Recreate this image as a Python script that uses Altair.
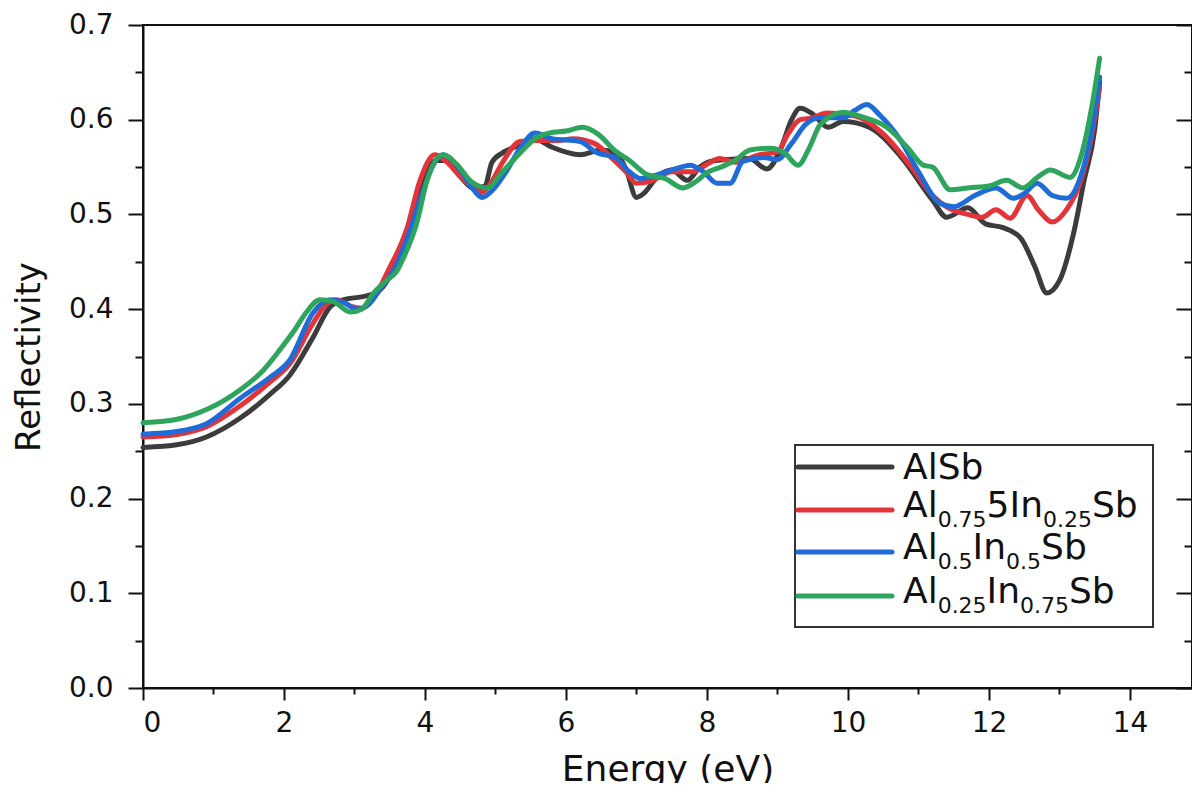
import altair as alt
import pandas as pd

# ---------------- data ----------------
SERIES = ["AlSb", "Al0.75In0.25Sb", "Al0.5In0.5Sb", "Al0.25In0.75Sb"]
COLORS = ["#3c3c3c", "#e3343a", "#1f6bd8", "#2ea55c"]

alsb_x = [0, 0.5, 0.9, 1.38, 1.8, 2.08, 2.41, 2.65, 2.85, 3.1, 3.3, 3.5, 3.7, 3.85, 4.0,
          4.15, 4.3, 4.5, 4.7, 4.85, 4.95, 5.1, 5.3, 5.55, 5.8, 6.2, 6.5, 6.7, 6.85, 7.0,
          7.1, 7.3, 7.5, 7.72, 7.9, 8.05, 8.3, 8.6, 8.85, 9.05, 9.2, 9.32, 9.5, 9.72, 9.93,
          10.3, 10.75, 11.2, 11.4, 11.7, 11.95, 12.2, 12.45, 12.65, 12.82, 13.0, 13.2, 13.35,
          13.5, 13.57]
alsb_y = [0.254, 0.257, 0.265, 0.285, 0.31, 0.33, 0.37, 0.402, 0.41, 0.413, 0.417, 0.435,
          0.475, 0.505, 0.538, 0.557, 0.557, 0.54, 0.527, 0.53, 0.555, 0.565, 0.572, 0.58,
          0.571, 0.563, 0.568, 0.565, 0.548, 0.518, 0.522, 0.54, 0.547, 0.536, 0.55, 0.556,
          0.558, 0.559, 0.548, 0.57, 0.6, 0.612, 0.606, 0.592, 0.598, 0.592, 0.561, 0.515,
          0.497, 0.507, 0.49, 0.486, 0.475, 0.445, 0.417, 0.43, 0.48, 0.536, 0.59, 0.64]

al75_x = [0, 0.5, 0.9, 1.38, 1.8, 2.08, 2.41, 2.6, 2.75, 2.95, 3.1, 3.3, 3.48, 3.74, 3.93,
          4.14, 4.3, 4.5, 4.65, 4.8, 4.95, 5.1, 5.35, 5.6, 5.9, 6.1, 6.4, 6.67, 6.85, 7.0,
          7.2, 7.5, 7.8, 8.0, 8.18, 8.4, 8.75, 9.0, 9.15, 9.32, 9.5, 9.7, 10.1, 10.5, 10.9,
          11.2, 11.4, 11.7, 11.9, 12.1, 12.3, 12.54, 12.7, 12.9, 13.1, 13.3, 13.45, 13.57]
al75_y = [0.265, 0.268, 0.276, 0.298, 0.323, 0.342, 0.385, 0.405, 0.41, 0.403, 0.401, 0.415,
          0.441, 0.484, 0.536, 0.563, 0.556, 0.54, 0.53, 0.523, 0.535, 0.555, 0.577, 0.578,
          0.578, 0.58, 0.575, 0.558, 0.545, 0.533, 0.535, 0.545, 0.545, 0.553, 0.559, 0.555,
          0.563, 0.566, 0.585, 0.6, 0.602, 0.607, 0.604, 0.585, 0.55, 0.52, 0.508, 0.5, 0.497,
          0.505, 0.496, 0.52, 0.505, 0.492, 0.505, 0.535, 0.58, 0.635]

al50_x = [0, 0.5, 0.9, 1.38, 1.8, 2.08, 2.41, 2.65, 2.85, 3.03, 3.2, 3.4, 3.55, 3.75, 3.95,
          4.1, 4.26, 4.45, 4.65, 4.81, 4.95, 5.15, 5.35, 5.56, 5.8, 6.2, 6.44, 6.7, 6.9, 7.05,
          7.3, 7.55, 7.76, 7.95, 8.14, 8.33, 8.51, 8.8, 9.0, 9.2, 9.4, 9.6, 9.93, 10.1, 10.27,
          10.45, 10.74, 11.0, 11.3, 11.5, 11.8, 12.1, 12.35, 12.5, 12.68, 12.9, 13.1, 13.3,
          13.45, 13.57]
al50_y = [0.268, 0.271, 0.279, 0.306, 0.328, 0.346, 0.396, 0.41, 0.407, 0.4, 0.405, 0.425,
          0.44, 0.475, 0.52, 0.55, 0.563, 0.552, 0.53, 0.518, 0.525, 0.545, 0.57, 0.586, 0.58,
          0.577, 0.565, 0.56, 0.545, 0.538, 0.542, 0.548, 0.552, 0.545, 0.533, 0.533, 0.556,
          0.56, 0.558, 0.575, 0.595, 0.602, 0.602, 0.61, 0.616, 0.605, 0.579, 0.545, 0.512,
          0.508, 0.52, 0.528, 0.517, 0.522, 0.533, 0.52, 0.517, 0.54, 0.585, 0.645]

al25_x = [0, 0.5, 0.9, 1.38, 1.7, 1.94, 2.15, 2.32, 2.51, 2.7, 2.94, 3.1, 3.27, 3.45, 3.6,
          3.7, 3.88, 4.03, 4.26, 4.45, 4.65, 4.88, 5.1, 5.35, 5.6, 5.77, 6.0, 6.24, 6.45, 6.7,
          6.9, 7.15, 7.4, 7.66, 7.85, 8.0, 8.2, 8.4, 8.61, 8.9, 9.1, 9.29, 9.45, 9.6, 9.93,
          10.2, 10.55, 10.84, 11.07, 11.2, 11.45, 11.7, 12.0, 12.25, 12.48, 12.7, 12.87,
          13.15, 13.3, 13.45, 13.57]
al25_y = [0.28, 0.284, 0.294, 0.315, 0.335, 0.357, 0.378, 0.397, 0.41, 0.408, 0.397, 0.4,
          0.417, 0.43, 0.44, 0.455, 0.49, 0.536, 0.563, 0.553, 0.535, 0.528, 0.545, 0.565,
          0.582, 0.586, 0.588, 0.592, 0.585, 0.567, 0.557, 0.542, 0.538, 0.528, 0.535, 0.544,
          0.55, 0.557, 0.568, 0.57, 0.565, 0.552, 0.57, 0.594, 0.608, 0.603, 0.592, 0.571,
          0.552, 0.55, 0.526, 0.528, 0.53, 0.536, 0.528, 0.54, 0.547, 0.539, 0.56, 0.61, 0.665]

X_MAJOR = [0, 2, 4, 6, 8, 10, 12, 14]
X_MINOR = [1, 3, 5, 7, 9, 11, 13]
Y_MAJOR = [0.0, 0.1, 0.2, 0.3, 0.4, 0.5, 0.6, 0.7]
Y_MINOR = [0.05, 0.15, 0.25, 0.35, 0.45, 0.55, 0.65]

LEGEND_ROWS = [
    [("AlSb", False)],
    [("Al", False), ("0.75", True), ("5In", False), ("0.25", True), ("Sb", False)],
    [("Al", False), ("0.5", True), ("In", False), ("0.5", True), ("Sb", False)],
    [("Al", False), ("0.25", True), ("In", False), ("0.75", True), ("Sb", False)],
]

# ---------------- layout ----------------
W, H = 1049, 663
FONT = "DejaVu Sans"

frames = []
for name, xs, ys in zip(SERIES, [alsb_x, al75_x, al50_x, al25_x], [alsb_y, al75_y, al50_y, al25_y]):
    frames.append(pd.DataFrame({"series": name, "energy": xs, "refl": ys}))
df = pd.concat(frames, ignore_index=True)

xscale = alt.Scale(domain=[0, 14.88], nice=False, zero=False)
yscale = alt.Scale(domain=[0, 0.7], nice=False, zero=False)

lines = alt.Chart(df).mark_line(strokeWidth=5, interpolate="monotone",
                                strokeCap="round", strokeJoin="round").encode(
    x=alt.X("energy:Q", scale=xscale,
            axis=alt.Axis(values=X_MAJOR, format="d", tickSize=12, labelPadding=9,
                          labelFontSize=28, title="Energy (eV)", titleFontSize=36,
                          titleFontWeight="normal", titlePadding=15, orient="bottom")),
    y=alt.Y("refl:Q", scale=yscale,
            axis=alt.Axis(values=Y_MAJOR, format=".1f", tickSize=15, labelPadding=15,
                          labelFontSize=28, title="Reflectivity", titleFontSize=34,
                          titleFontWeight="normal", titlePadding=22, orient="left")),
    color=alt.Color("series:N", scale=alt.Scale(domain=SERIES, range=COLORS), legend=None),
)

minor = alt.Chart(df).mark_line(opacity=0).encode(
    x=alt.X("energy:Q", scale=xscale,
            axis=alt.Axis(values=X_MINOR, tickSize=6, labels=False, domain=False,
                          title=None, orient="bottom")),
    y=alt.Y("refl:Q", scale=yscale,
            axis=alt.Axis(values=Y_MINOR, tickSize=8, labels=False, domain=False,
                          title=None, orient="left")),
)

right_major = alt.Chart(df).mark_line(opacity=0).encode(
    x=alt.X("energy:Q", scale=xscale, axis=None),
    y=alt.Y("refl:Q", scale=yscale,
            axis=alt.Axis(values=Y_MAJOR, tickSize=16, labels=False, domain=False,
                          title=None, orient="left", offset=-W)),
)
right_minor = alt.Chart(df).mark_line(opacity=0).encode(
    x=alt.X("energy:Q", scale=xscale, axis=None),
    y=alt.Y("refl:Q", scale=yscale,
            axis=alt.Axis(values=Y_MINOR, tickSize=8, labels=False, domain=False,
                          title=None, orient="left", offset=-W)),
)

# ---------------- custom legend (with subscripts) ----------------
GLYPH = {"A": 684, "l": 278, "S": 635, "b": 635, "I": 295, "n": 634, ".": 318}
MAIN_SIZE, SUB_SIZE = 36, 22


def text_w(s, size):
    return sum(GLYPH.get(ch, 636) for ch in s) * size / 1000.0


box_x0, box_x1, box_y0, box_y1 = 652, 1010, 420, 602
row_y = [442, 485, 527, 571]
sample_x0, sample_x1, text_x0 = 655, 749, 760

main_rows, sub_rows, sample_rows = [], [], []
for segs, ly, col in zip(LEGEND_ROWS, row_y, COLORS):
    sample_rows.append({"x1": sample_x0, "x2": sample_x1, "y": ly, "c": col})
    base = ly + (12 if len(segs) == 1 else 7)
    x = text_x0
    for s, is_sub in segs:
        if is_sub:
            sub_rows.append({"t": s, "px": x, "py": base + 10})
            x += text_w(s, SUB_SIZE)
        else:
            main_rows.append({"t": s, "px": x, "py": base})
            x += text_w(s, MAIN_SIZE)

box = alt.Chart(pd.DataFrame({"a": [0]})).mark_rect(
    fill="white", stroke="#333333", strokeWidth=2).encode(
    x=alt.value(box_x0), x2=alt.value(box_x1), y=alt.value(box_y0), y2=alt.value(box_y1))

samples = alt.Chart(pd.DataFrame(sample_rows)).mark_rule(strokeWidth=5, strokeCap="round").encode(
    x=alt.X("x1:Q", scale=None, axis=None), x2="x2:Q",
    y=alt.Y("y:Q", scale=None, axis=None),
    color=alt.Color("c:N", scale=None))

main_text = alt.Chart(pd.DataFrame(main_rows)).mark_text(
    align="left", baseline="alphabetic", font=FONT, fontSize=MAIN_SIZE, color="#111111").encode(
    x=alt.X("px:Q", scale=None, axis=None), y=alt.Y("py:Q", scale=None, axis=None), text="t:N")

sub_text = alt.Chart(pd.DataFrame(sub_rows)).mark_text(
    align="left", baseline="alphabetic", font=FONT, fontSize=SUB_SIZE, color="#111111").encode(
    x=alt.X("px:Q", scale=None, axis=None), y=alt.Y("py:Q", scale=None, axis=None), text="t:N")

chart = alt.layer(minor, right_major, right_minor, lines, box, samples, main_text, sub_text).resolve_axis(
    x="independent", y="independent"
).properties(
    width=W, height=H,
    autosize=alt.AutoSizeParams(type="none"),
    padding={"left": 135, "top": 17, "right": 0, "bottom": 95},
    background="white",
).configure_axis(
    grid=False, domainColor="#111111", domainWidth=2, tickColor="#111111", tickWidth=2,
    labelColor="#111111", titleColor="#111111", labelFont=FONT, titleFont=FONT,
).configure_view(stroke="#111111", strokeWidth=2)

chart.save("out.html", embed_options={"renderer": "svg", "actions": False})
